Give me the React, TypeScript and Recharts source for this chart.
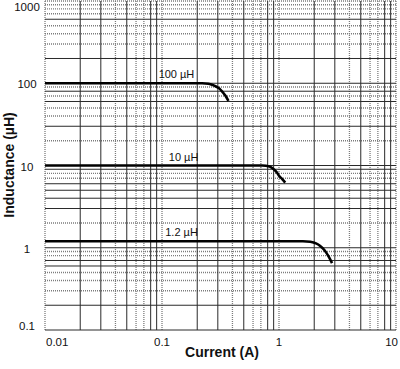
import { LineChart, Line, XAxis, YAxis, ReferenceLine, ReferenceDot, Label } from 'recharts'

const FONT = '"Liberation Sans", Arial, Helvetica, sans-serif'

const currentTicks = [0.01, 0.1, 1, 10]
const inductanceTicks = [0.1, 1, 10, 100, 1000]

// grid lines, split by how the datasheet draws them (solid dark / dotted grey)
const currentGridSolid = [0.02, 0.03, 0.05, 0.08, 0.09, 0.2, 0.3, 0.5, 0.8, 0.9, 2, 3, 5, 8, 9]
const currentGridDotted = [0.01, 0.04, 0.06, 0.07, 0.1, 0.4, 0.6, 0.7, 1, 4, 6, 7, 10]
const inductanceGridSolid = [0.1, 0.2, 0.6, 0.7, 1, 3, 4, 5, 6, 9, 10, 30, 60, 80, 100, 200, 600]
const inductanceGridDotted = [0.3, 0.4, 0.5, 0.8, 0.9, 2, 7, 8, 20, 40, 50, 70, 90, 300, 400, 500, 700, 800, 900, 1000]

// saturation curves: current (A) vs inductance (uH)
const curve100uH = [
  { i: 0.01, l: 100 }, { i: 0.1, l: 100 }, { i: 0.22, l: 100 }, { i: 0.25, l: 98.5 },
  { i: 0.28, l: 93.5 }, { i: 0.31, l: 86 }, { i: 0.33, l: 78 }, { i: 0.35, l: 70 }, { i: 0.37, l: 61 },
]
const curve10uH = [
  { i: 0.01, l: 10 }, { i: 0.1, l: 10 }, { i: 0.72, l: 10 }, { i: 0.83, l: 9.7 }, { i: 0.91, l: 8.9 },
  { i: 0.96, l: 8.2 }, { i: 1.0, l: 7.5 }, { i: 1.07, l: 6.8 }, { i: 1.13, l: 6.2 },
]
const curve1_2uH = [
  { i: 0.01, l: 1.2 }, { i: 0.1, l: 1.2 }, { i: 1.6, l: 1.2 }, { i: 1.85, l: 1.18 }, { i: 2.07, l: 1.13 },
  { i: 2.25, l: 1.05 }, { i: 2.44, l: 0.94 }, { i: 2.66, l: 0.78 }, { i: 2.84, l: 0.65 },
]

const curveNames = ['100 µH', '10 µH', '1.2 µH']
const curveLabelAt = [
  { i: 0.133, l: 100 },
  { i: 0.153, l: 10 },
  { i: 0.147, l: 1.2 },
]

function XTick({ x, payload, index }: any) {
  const last = index === currentTicks.length - 1
  const anchor = index === 0 ? 'start' : last ? 'end' : 'middle'
  const tx = index === 0 ? x + 1 : last ? 398 : x
  return (
    <text x={tx} y={346} textAnchor={anchor} fontSize={11.5} fontFamily={FONT} fill="#111">
      {payload.value}
    </text>
  )
}

function YTick({ y, payload }: any) {
  const ty = Math.min(Math.max(y + 1, 7), 326)
  return (
    <text x={27} y={ty} textAnchor="middle" dominantBaseline="central" fontSize={11.5} fontFamily={FONT} fill="#111">
      {payload.value}
    </text>
  )
}

export default function App() {
  const curves = [curve100uH, curve10uH, curve1_2uH]
  return (
    <div style={{ position: 'absolute', left: 0, top: 0, background: '#fff' }}>
      <LineChart width={400} height={369} margin={{ top: 1, right: 4, left: 0, bottom: 0 }}>
        <XAxis
          dataKey="i"
          type="number"
          scale="log"
          domain={[0.01, 10]}
          ticks={currentTicks}
          allowDataOverflow
          axisLine={false}
          tickLine={false}
          height={39}
          tick={<XTick />}
          interval={0}
        >
          <Label
            content={() => (
              <text x={222} y={357} textAnchor="middle" fontSize={14} fontWeight="bold" fontFamily={FONT} fill="#111">
                Current (A)
              </text>
            )}
          />
        </XAxis>
        <YAxis
          type="number"
          scale="log"
          domain={[0.1, 1000]}
          ticks={inductanceTicks}
          allowDataOverflow
          axisLine={false}
          tickLine={false}
          width={45}
          tick={<YTick />}
          interval={0}
        >
          <Label
            content={() => (
              <text
                x={14}
                y={165}
                transform="rotate(-90 14 165)"
                textAnchor="middle"
                fontSize={14}
                fontWeight="bold"
                fontFamily={FONT}
                fill="#111"
              >
                Inductance (µH)
              </text>
            )}
          />
        </YAxis>

        {currentGridDotted.map((v) => (
          <ReferenceLine key={`xd-${v}`} x={v} stroke="#7c7c7c" strokeWidth={1.3} strokeDasharray="1 1" />
        ))}
        {inductanceGridDotted.map((v) => (
          <ReferenceLine key={`yd-${v}`} y={v} stroke="#7c7c7c" strokeWidth={1.3} strokeDasharray="1 1" />
        ))}
        {currentGridSolid.map((v) => (
          <ReferenceLine key={`xs-${v}`} x={v} stroke="#2a2a2a" strokeWidth={1} />
        ))}
        {inductanceGridSolid.map((v) => (
          <ReferenceLine key={`ys-${v}`} y={v} stroke="#2a2a2a" strokeWidth={1} />
        ))}

        {curves.map((c, idx) => (
          <Line
            key={curveNames[idx]}
            data={c}
            dataKey="l"
            type="monotone"
            stroke="#000"
            strokeWidth={2.6}
            dot={false}
            isAnimationActive={false}
          />
        ))}

        {curveLabelAt.map((p, idx) => (
          <ReferenceDot
            key={`lbl-${idx}`}
            x={p.i}
            y={p.l}
            r={0}
            fill="none"
            stroke="none"
            label={{ value: curveNames[idx], position: 'top', offset: 5, fontSize: 11, fill: '#111', fontFamily: FONT }}
          />
        ))}
      </LineChart>
    </div>
  )
}
